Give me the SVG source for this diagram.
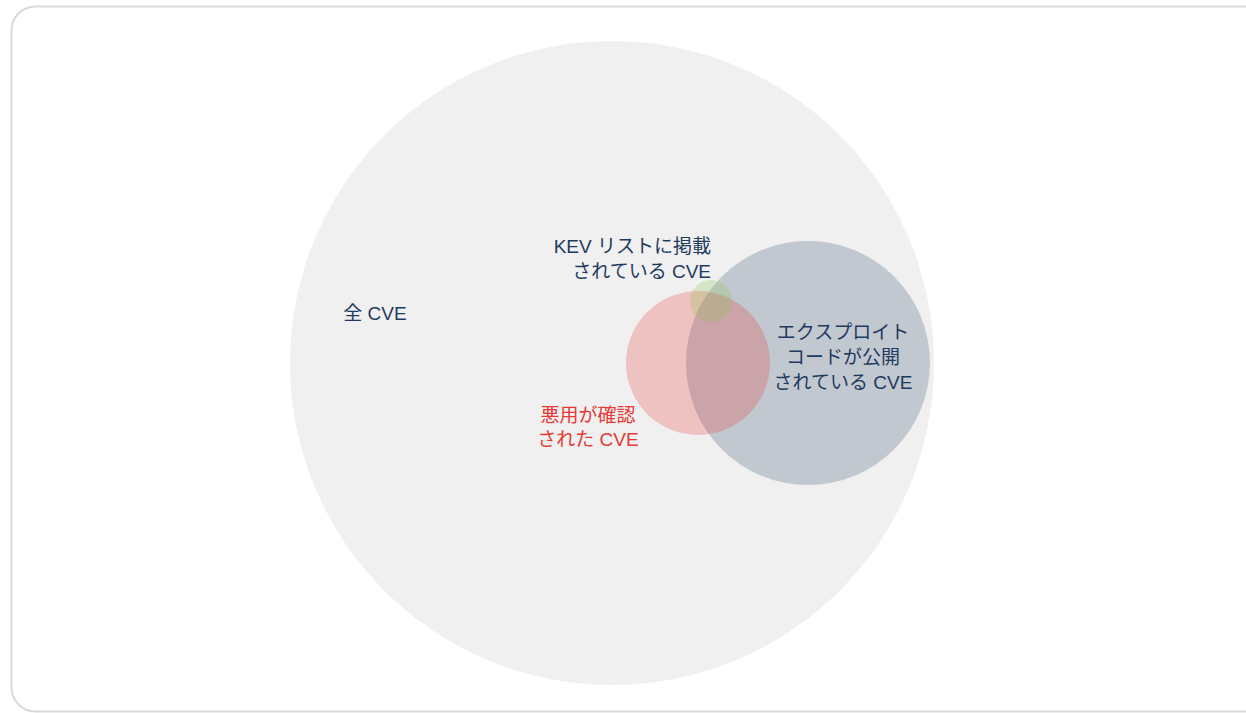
<svg xmlns="http://www.w3.org/2000/svg" width="1246" height="713" viewBox="0 0 1246 713">
<style>
.t{font-family:"Liberation Sans","Noto Sans CJK JP",sans-serif;font-size:19px;fill:#1f3a5f}
.r{fill:#e53935}
</style>
<rect x="0" y="0" width="1246" height="713" fill="#ffffff"/>
<rect x="11.5" y="6.5" width="1260" height="705" rx="24" fill="#ffffff" stroke="#d9d9d9" stroke-width="2"/>
<g id="all">
<circle cx="612" cy="363" r="322" fill="#f0f0f0"/>
</g>
<g id="exploit">
<circle cx="808" cy="363" r="122" fill="#1f3a5f" fill-opacity="0.22"/>
</g>
<g id="exploited">
<circle cx="698" cy="363" r="72" fill="#e53935" fill-opacity="0.25"/>
</g>
<g id="kev">
<circle cx="711" cy="301" r="21" fill="#8bc34a" fill-opacity="0.25"/>
</g>
<g id="labels">
<text class="t" x="375" y="320" text-anchor="middle">全 CVE</text>
<text class="t" x="711" y="253" text-anchor="end">KEV リストに掲載</text>
<text class="t" x="711" y="278" text-anchor="end">されている CVE</text>
<text class="t" x="843" y="339" text-anchor="middle">エクスプロイト</text>
<text class="t" x="843" y="364" text-anchor="middle">コードが公開</text>
<text class="t" x="843" y="389" text-anchor="middle">されている CVE</text>
<text class="t r" x="588" y="422" text-anchor="middle">悪用が確認</text>
<text class="t r" x="588" y="446" text-anchor="middle">された CVE</text>
</g>
</svg>
